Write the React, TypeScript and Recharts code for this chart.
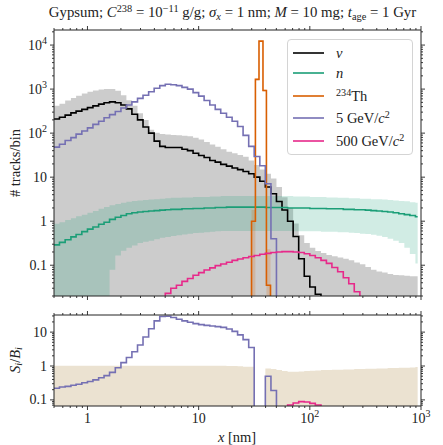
import React from 'react'
import { ComposedChart, Line, Area, XAxis, YAxis } from 'recharts'

const FONT = "'Liberation Serif', 'DejaVu Serif', serif"
const INK = '#222'
const FLOOR = 1e-6 // zero counts are drawn below the axis, like -inf on a log plot

// histogram bin edges in nm (20 per decade, last bin stops near 930 nm)
const EDGES = [
  0.5, 0.56, 0.63, 0.71, 0.79, 0.89, 1.0, 1.12, 1.26, 1.41, 1.58, 1.78, 2.0, 2.24, 2.51, 2.82,
  3.16, 3.55, 3.98, 4.47, 5.01, 5.62, 6.31, 7.08, 7.94, 8.91, 10, 11.2, 12.6, 14.1, 15.8, 17.8,
  20.0, 22.4, 25.1, 28.2, 31.6, 35.5, 39.8, 44.7, 50.1, 56.2, 63.1, 70.8, 79.4, 89.1, 100, 112,
  126, 141, 158, 178, 200, 224, 251, 282, 316, 355, 398, 447, 501, 562, 631, 708, 794, 891, 933,
]

// top panel: tracks per bin
const NU = [
  209, 229, 257, 288, 316, 347, 380, 417, 457, 490,
  513, 490, 437, 355, 269, 200, 138, 100, 66, 50,
  47, 47, 47, 43, 40, 35, 31, 28, 24, 22,
  19.5, 17.8, 16.2, 14.8, 13.5, 12.0, 10.0, 8.1, 6.0, 4.2,
  2.8, 1.8, 1.0, 0.45, 0.14, 0.056, 0.032, 0.022, 0.017, 0.013,
  0.009, 0.006, 0,
]
const NU_HI = [
  417, 468, 550, 631, 708, 794, 871, 933, 977, 1000,
  1000, 912, 724, 562, 417, 282, 200, 120, 102, 95,
  93, 91, 89, 87, 85, 79, 72, 63, 55, 49,
  43, 38, 35, 32, 29, 24, 19, 15, 12, 9.3,
  6.0, 3.5, 2.0, 0.89, 0.48, 0.32, 0.25, 0.21, 0.19, 0.17,
  0.16, 0.15, 0.14, 0.13, 0.115, 0.105, 0.091, 0.079, 0.072, 0.068,
  0.063, 0.06, 0.059, 0.058, 0.056, 0.056,
]
const NEUTRON = [
  0.29, 0.33, 0.38, 0.44, 0.5, 0.58, 0.66, 0.74, 0.85, 0.95,
  1.1, 1.23, 1.35, 1.48, 1.55, 1.62, 1.66, 1.7, 1.74, 1.78,
  1.82, 1.86, 1.86, 1.91, 1.91, 1.95, 1.95, 2.0, 2.0, 2.04,
  2.04, 2.09, 2.09, 2.09, 2.09, 2.09, 2.09, 2.09, 2.04, 2.04,
  2.04, 2.04, 2.0, 2.0, 2.0, 2.0, 1.95, 1.95, 1.95, 1.91,
  1.91, 1.91, 1.86, 1.86, 1.82, 1.82, 1.78, 1.74, 1.7, 1.66,
  1.62, 1.55, 1.48, 1.41, 1.35, 1.26,
]
const NEUTRON_LO = [
  0, 0, 0, 0, 0, 0, 0, 0, 0, 0,
  0.079, 0.166, 0.214, 0.25, 0.28, 0.32, 0.34, 0.36, 0.39, 0.42,
  0.44, 0.46, 0.48, 0.5, 0.52, 0.54, 0.55, 0.56, 0.575, 0.59,
  0.6, 0.6, 0.6, 0.6, 0.6, 0.6, 0.6, 0.6, 0.6, 0.6,
  0.6, 0.6, 0.6, 0.59, 0.59, 0.59, 0.59, 0.59, 0.575, 0.575,
  0.575, 0.56, 0.56, 0.55, 0.54, 0.52, 0.51, 0.49, 0.47, 0.44,
  0.4, 0.36, 0.32, 0.25, 0.18, 0.11,
]
const NEUTRON_HI = [
  0.87, 0.95, 1.07, 1.17, 1.29, 1.41, 1.55, 1.7, 1.91, 2.09,
  2.29, 2.45, 2.63, 2.75, 2.88, 2.95, 3.02, 3.09, 3.16, 3.24,
  3.31, 3.39, 3.39, 3.47, 3.47, 3.55, 3.55, 3.55, 3.63, 3.63,
  3.72, 3.72, 3.72, 3.72, 3.72, 3.72, 3.72, 3.72, 3.72, 3.72,
  3.72, 3.72, 3.72, 3.63, 3.63, 3.63, 3.55, 3.55, 3.55, 3.47,
  3.47, 3.39, 3.39, 3.31, 3.31, 3.24, 3.24, 3.16, 3.16, 3.09,
  3.02, 2.95, 2.88, 2.82, 2.69, 2.63,
]
const WIMP5 = [
  48, 56, 68, 79, 95, 112, 132, 158, 186, 224,
  263, 309, 372, 437, 513, 617, 724, 871, 1047, 1202,
  1288, 1259, 1202, 1096, 1000, 832, 692, 550, 437, 347,
  282, 229, 186, 141, 89, 50, 29.5, 18.2, 7.1, 0.4, 0,
]
const WIMP500_FIRST = 18
const WIMP500 = [
  0, 0.018, 0.023, 0.03, 0.035, 0.043, 0.05, 0.059, 0.068, 0.078, 0.087,
  0.098, 0.107, 0.117, 0.129, 0.138, 0.148, 0.158, 0.166, 0.178, 0.186,
  0.195, 0.2, 0.204, 0.204, 0.2, 0.195, 0.182, 0.166, 0.148, 0.129,
  0.11, 0.089, 0.071, 0.052, 0.038, 0.025, 0.014, 0,
]

// 234Th peak has its own narrow bins
const TH_EDGES = [27.5, 29.9, 32.4, 34.9, 37.9, 40.7, 44.3, 48.0]
const TH = [0, 1.0, 1660, 12300, 930, 0.035, 0]
const TH_LO = [null, 0, 1580, 12100, 880, 0, null]
const TH_HI = [null, 1.8, 1740, 12500, 980, 0.23, null]

// bottom panel: S_i / B_i
const RATIO5 = [
  0.22, 0.24, 0.25, 0.27, 0.29, 0.32, 0.35, 0.39, 0.45, 0.52,
  0.65, 0.89, 1.26, 1.78, 2.63, 4.17, 7.2, 12.6, 21.4, 28.8,
  29.5, 26.9, 24.0, 21.4, 19.5, 17.8, 16.6, 15.8, 15.1, 14.5,
  13.8, 12.3, 10.5, 8.3, 6.0, 3.5, 0, 0, 0.5, 0.19, 0,
]
const RATIO500_FIRST = 41
const RATIO500 = [0, 0.071, 0.081, 0.089, 0.087, 0.079, 0.071, 0.06, 0]
const RATIO_BAND_HI = [
  1.02, 1.02, 1.02, 1.02, 1.02, 1.02, 1.02, 1.02, 1.02, 1.02,
  1.02, 1.02, 1.02, 1.02, 1.02, 1.02, 1.02, 1.02, 1.02, 1.02,
  1.02, 1.02, 1.02, 1.02, 1.02, 1.02, 1.02, 1.02, 1.02, 1.02,
  1.02, 1.0, 1.0, 0.98, 0.955, 0.955, null, null, 0.85, 0.81,
  0.76, 0.71, 0.68, 0.68, 0.69, 0.71, 0.72, 0.74, 0.76, 0.76,
  0.78, 0.78, 0.79, 0.79, 0.81, 0.81, 0.83, 0.83, 0.85, 0.85,
  0.87, 0.87, 0.89, 0.89, 0.91, 0.93,
]

const X_DOMAIN = [0.5, 1000]
const Y_TOP_DOMAIN = [0.02, 22000]
const Y_BOT_DOMAIN = [0.066, 32]

const C_NU = '#000000'
const C_N = '#1b9e77'
const C_TH = '#d95f02'
const C_5 = '#7570b3'
const C_500 = '#e7298a'

// log ticks: every integer multiple inside the range
function logTicks([lo, hi]: number[]) {
  const out: number[] = []
  for (let e = Math.floor(Math.log10(lo)); e <= Math.ceil(Math.log10(hi)); e++) {
    for (let m = 1; m < 10; m++) {
      const v = +(m * 10 ** e).toPrecision(6)
      if (v >= lo * 0.9999 && v <= hi * 1.0001) out.push(v)
    }
  }
  return out
}
const X_TICKS = logTicks(X_DOMAIN)
const Y_TOP_TICKS = logTicks(Y_TOP_DOMAIN)
const Y_BOT_TICKS = logTicks(Y_BOT_DOMAIN)

type Pt = { x: number; y: number | [number, number] | null }

function stepLine(edges: number[], values: number[], first = 0): Pt[] {
  const pts: Pt[] = []
  values.forEach((v, i) => {
    const y = v > 0 ? v : FLOOR
    pts.push({ x: edges[first + i], y }, { x: edges[first + i + 1], y })
  })
  return pts
}

function stepBand(edges: number[], lo: (number | null)[] | null, hi: (number | null)[]): Pt[] {
  const pts: Pt[] = []
  hi.forEach((h, i) => {
    const l = lo ? lo[i] : 0
    if (h == null || l == null) {
      pts.push({ x: edges[i], y: null })
      return
    }
    const y: [number, number] = [l > 0 ? l : FLOOR, h]
    pts.push({ x: edges[i], y }, { x: edges[i + 1], y })
  })
  return pts
}

const isDecade = (v: number) => Math.abs(Math.log10(v) - Math.round(Math.log10(v))) < 1e-6

function TickText({ v, x, y, anchor }: { v: number; x: number; y: number; anchor: 'end' | 'middle' }) {
  const e = Math.round(Math.log10(v))
  return (
    <text x={x} y={y} textAnchor={anchor} fontFamily={FONT} fontSize={14} fill={INK}>
      {e >= 2 ? (
        <>
          10<tspan dy={-6} fontSize={10}>{e}</tspan>
        </>
      ) : (
        String(v)
      )}
    </text>
  )
}

type Side = 'left' | 'right' | 'top' | 'bottom'
const makeTick = (side: Side, labels = false) => (props: any) => {
  const { x, y, payload } = props
  const v = payload.value as number
  const major = isDecade(v)
  const len = major ? 4 : 2
  const [dx, dy] = { left: [-len, 0], right: [len, 0], top: [0, -len], bottom: [0, len] }[side]
  return (
    <g>
      <line x1={x} y1={y} x2={x + dx} y2={y + dy} stroke={INK} strokeWidth={0.9} />
      {labels && major && side === 'left' && <TickText v={v} x={x - 7} y={y + 4.5} anchor="end" />}
      {labels && major && side === 'bottom' && <TickText v={v} x={x} y={y + 17} anchor="middle" />}
    </g>
  )
}

const axisCommon = {
  type: 'number' as const,
  scale: 'log' as const,
  allowDataOverflow: true,
  interval: 0 as const,
  tickLine: false,
  tickSize: 0,
  tickMargin: 0,
  axisLine: { stroke: INK, strokeWidth: 1 },
}

// x axes get height 1 and the right y axis width 1 so Recharts still draws them
function Axes({ yDomain, yTicks, xLabels }: { yDomain: number[]; yTicks: number[]; xLabels: boolean }) {
  return (
    <>
      <XAxis {...axisCommon} dataKey="x" domain={X_DOMAIN} ticks={X_TICKS} height={1} tick={makeTick('bottom', xLabels)} />
      <XAxis {...axisCommon} xAxisId="top" orientation="top" dataKey="x" domain={X_DOMAIN} ticks={X_TICKS} height={1} tick={makeTick('top')} />
      <YAxis {...axisCommon} domain={yDomain} ticks={yTicks} width={40} tick={makeTick('left', true)} />
      <YAxis {...axisCommon} yAxisId="right" orientation="right" domain={yDomain} ticks={yTicks} width={1} tick={makeTick('right')} />
    </>
  )
}

const lineProps = {
  type: 'linear' as const,
  dataKey: 'y',
  dot: false,
  activeDot: false,
  isAnimationActive: false,
  strokeWidth: 1.6,
  legendType: 'none' as const,
}
const bandProps = {
  type: 'linear' as const,
  dataKey: 'y',
  stroke: 'none',
  dot: false,
  activeDot: false,
  isAnimationActive: false,
  legendType: 'none' as const,
}

const Sup = ({ children }: { children: React.ReactNode }) => (
  <span style={{ fontSize: '0.7em', verticalAlign: '0.45em', lineHeight: 0 }}>{children}</span>
)
const Sub = ({ children }: { children: React.ReactNode }) => (
  <span style={{ fontSize: '0.7em', verticalAlign: '-0.25em', lineHeight: 0 }}>{children}</span>
)

const LEGEND = [
  { color: C_NU, label: <i>ν</i>, top: 13 },
  { color: C_N, label: <i>n</i>, top: 33 },
  { color: C_TH, label: <><Sup>234</Sup>Th</>, top: 56 },
  { color: C_5, label: <>5 GeV/<i>c</i><Sup>2</Sup></>, top: 78 },
  { color: C_500, label: <>500 GeV/<i>c</i><Sup>2</Sup></>, top: 101 },
]

export default function App() {
  return (
    <div style={{ position: 'absolute', left: 0, top: 0, width: 443, height: 445, background: '#fff', fontFamily: FONT, color: INK }}>
      <div style={{ position: 'absolute', left: 0, top: 4, width: 465, textAlign: 'center', fontSize: 14.8, lineHeight: '16px', whiteSpace: 'nowrap' }}>
        Gypsum; <i>C</i><Sup>238</Sup> = 10<Sup>−11</Sup> g/g; <i>σ<Sub>x</Sub></i> = 1 nm; <i>M</i> = 10 mg; <i>t</i><Sub>age</Sub> = 1 Gyr
      </div>

      <div style={{ position: 'absolute', left: 0, top: 0 }}>
        <ComposedChart width={443} height={300} margin={{ top: 29, right: 21, bottom: 3, left: 14 }}>
          <Area {...bandProps} data={stepBand(EDGES, null, NU_HI)} fill="#000" fillOpacity={0.2} />
          <Area {...bandProps} data={stepBand(EDGES, NEUTRON_LO, NEUTRON_HI)} fill={C_N} fillOpacity={0.2} />
          <Area {...bandProps} data={stepBand(TH_EDGES, TH_LO, TH_HI)} fill={C_TH} fillOpacity={0.2} />
          <Line {...lineProps} data={stepLine(EDGES, NU)} stroke={C_NU} />
          <Line {...lineProps} data={stepLine(EDGES, NEUTRON)} stroke={C_N} />
          <Line {...lineProps} data={stepLine(TH_EDGES, TH)} stroke={C_TH} />
          <Line {...lineProps} data={stepLine(EDGES, WIMP5)} stroke={C_5} />
          <Line {...lineProps} data={stepLine(EDGES, WIMP500, WIMP500_FIRST)} stroke={C_500} />
          {Axes({ yDomain: Y_TOP_DOMAIN, yTicks: Y_TOP_TICKS, xLabels: false })}
        </ComposedChart>
      </div>

      <div style={{ position: 'absolute', left: 0, top: 300 }}>
        <ComposedChart width={443} height={145} margin={{ top: 14, right: 21, bottom: 38, left: 14 }}>
          <Area {...bandProps} data={stepBand(EDGES, null, RATIO_BAND_HI)} fill="#ebe2d1" fillOpacity={1} />
          <Line {...lineProps} data={stepLine(EDGES, RATIO5)} stroke={C_5} />
          <Line {...lineProps} data={stepLine(EDGES, RATIO500, RATIO500_FIRST)} stroke={C_500} />
          {Axes({ yDomain: Y_BOT_DOMAIN, yTicks: Y_BOT_TICKS, xLabels: true })}
        </ComposedChart>
      </div>

      {/* legend */}
      <div style={{ position: 'absolute', left: 287, top: 39, width: 126, height: 116, boxSizing: 'border-box', border: '1px solid #d4d4d4', borderRadius: 4, background: 'rgba(255,255,255,0.8)' }}>
        {LEGEND.map((row, i) => (
          <div key={i} style={{ position: 'absolute', left: 0, top: row.top - 9, height: 18, display: 'flex', alignItems: 'center', whiteSpace: 'nowrap', fontSize: 14.5 }}>
            <svg width={48} height={18}>
              <line x1={5} x2={36} y1={9} y2={9} stroke={row.color} strokeWidth={1.6} />
            </svg>
            <span>{row.label}</span>
          </div>
        ))}
      </div>

      {/* axis titles */}
      <div style={{ position: 'absolute', left: 15, top: 163, transform: 'translate(-50%, -50%) rotate(-90deg)', fontSize: 14.5, whiteSpace: 'nowrap' }}>
        # tracks/bin
      </div>
      <div style={{ position: 'absolute', left: 15, top: 360, transform: 'translate(-50%, -50%) rotate(-90deg)', fontSize: 14.5, whiteSpace: 'nowrap' }}>
        <i>S</i><Sub><i>i</i></Sub>/<i>B</i><Sub><i>i</i></Sub>
      </div>
      <div style={{ position: 'absolute', left: 237, top: 437, transform: 'translate(-50%, -50%)', fontSize: 14.5, whiteSpace: 'nowrap' }}>
        <i>x</i> [nm]
      </div>
    </div>
  )
}
